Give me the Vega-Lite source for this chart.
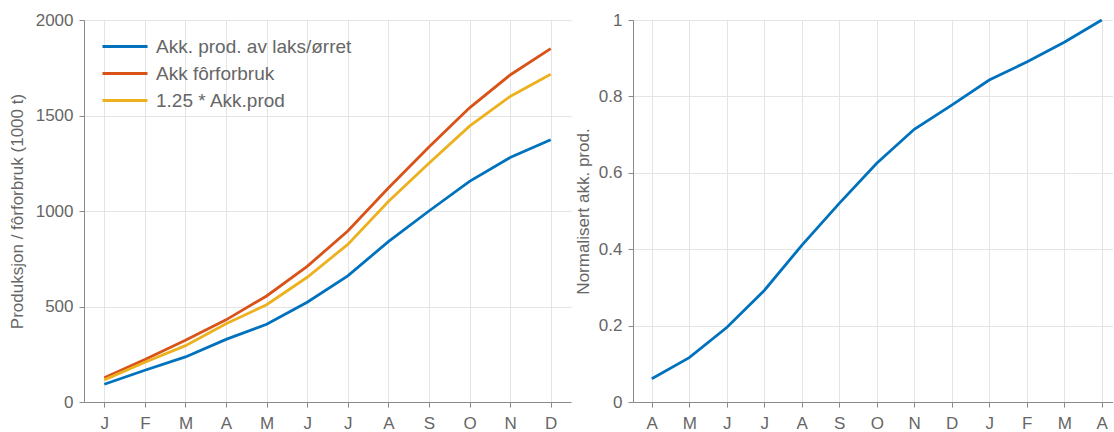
{
  "$schema": "https://vega.github.io/schema/vega-lite/v6.json",
  "padding": {"left": 8, "top": 11, "right": 0, "bottom": 0},
  "spacing": 3,
  "background": "white",
  "config": {
    "view": {"stroke": null},
    "font": "Liberation Sans",
    "axis": {
      "labelFont": "Liberation Sans",
      "labelFontSize": 17,
      "labelColor": "#666666",
      "titleFont": "Liberation Sans",
      "titleFontSize": 17,
      "titleFontWeight": "normal",
      "titleColor": "#666666",
      "domainColor": "#8a8a8a",
      "tickColor": "#8a8a8a",
      "gridColor": "#e4e4e4",
      "tickSize": 5,
      "labelPadding": 6
    },
    "legend": {
      "labelFont": "Liberation Sans",
      "labelFontSize": 19,
      "labelColor": "#666666",
      "labelLimit": 400
    }
  },
  "datasets": {
    "left": [
      {"m": 1, "series": "Akk. prod. av laks/ørret", "v": 93},
      {"m": 2, "series": "Akk. prod. av laks/ørret", "v": 166},
      {"m": 3, "series": "Akk. prod. av laks/ørret", "v": 236},
      {"m": 4, "series": "Akk. prod. av laks/ørret", "v": 328},
      {"m": 5, "series": "Akk. prod. av laks/ørret", "v": 407},
      {"m": 6, "series": "Akk. prod. av laks/ørret", "v": 522},
      {"m": 7, "series": "Akk. prod. av laks/ørret", "v": 660},
      {"m": 8, "series": "Akk. prod. av laks/ørret", "v": 840},
      {"m": 9, "series": "Akk. prod. av laks/ørret", "v": 1000},
      {"m": 10, "series": "Akk. prod. av laks/ørret", "v": 1155},
      {"m": 11, "series": "Akk. prod. av laks/ørret", "v": 1280},
      {"m": 12, "series": "Akk. prod. av laks/ørret", "v": 1373},
      {"m": 1, "series": "Akk fôrforbruk", "v": 127},
      {"m": 2, "series": "Akk fôrforbruk", "v": 222},
      {"m": 3, "series": "Akk fôrforbruk", "v": 323},
      {"m": 4, "series": "Akk fôrforbruk", "v": 430},
      {"m": 5, "series": "Akk fôrforbruk", "v": 555},
      {"m": 6, "series": "Akk fôrforbruk", "v": 710},
      {"m": 7, "series": "Akk fôrforbruk", "v": 895},
      {"m": 8, "series": "Akk fôrforbruk", "v": 1120},
      {"m": 9, "series": "Akk fôrforbruk", "v": 1335},
      {"m": 10, "series": "Akk fôrforbruk", "v": 1540},
      {"m": 11, "series": "Akk fôrforbruk", "v": 1712},
      {"m": 12, "series": "Akk fôrforbruk", "v": 1850},
      {"m": 1, "series": "1.25 * Akk.prod", "v": 116},
      {"m": 2, "series": "1.25 * Akk.prod", "v": 208},
      {"m": 3, "series": "1.25 * Akk.prod", "v": 295},
      {"m": 4, "series": "1.25 * Akk.prod", "v": 410},
      {"m": 5, "series": "1.25 * Akk.prod", "v": 509},
      {"m": 6, "series": "1.25 * Akk.prod", "v": 653},
      {"m": 7, "series": "1.25 * Akk.prod", "v": 825},
      {"m": 8, "series": "1.25 * Akk.prod", "v": 1050},
      {"m": 9, "series": "1.25 * Akk.prod", "v": 1250},
      {"m": 10, "series": "1.25 * Akk.prod", "v": 1444},
      {"m": 11, "series": "1.25 * Akk.prod", "v": 1600},
      {"m": 12, "series": "1.25 * Akk.prod", "v": 1716}
    ],
    "right": [
      {"i": 1, "v": 0.061},
      {"i": 2, "v": 0.116},
      {"i": 3, "v": 0.195},
      {"i": 4, "v": 0.292},
      {"i": 5, "v": 0.41},
      {"i": 6, "v": 0.52},
      {"i": 7, "v": 0.625},
      {"i": 8, "v": 0.714},
      {"i": 9, "v": 0.777},
      {"i": 10, "v": 0.843},
      {"i": 11, "v": 0.89},
      {"i": 12, "v": 0.942},
      {"i": 13, "v": 1.0}
    ]
  },
  "hconcat": [
    {
      "width": 487,
      "height": 382,
      "data": {"name": "left"},
      "mark": {"type": "line", "strokeWidth": 2.8, "clip": true},
      "encoding": {
        "x": {
          "field": "m",
          "type": "quantitative",
          "scale": {"domain": [0.5, 12.5], "nice": false, "zero": false},
          "axis": {
            "title": null,
            "values": [1, 2, 3, 4, 5, 6, 7, 8, 9, 10, 11, 12],
            "labelExpr": "['J','F','M','A','M','J','J','A','S','O','N','D'][datum.value-1]",
            "labelPadding": 8
          }
        },
        "y": {
          "field": "v",
          "type": "quantitative",
          "scale": {"domain": [0, 2000], "nice": false},
          "axis": {
            "title": "Produksjon / fôrforbruk (1000 t)",
            "values": [0, 500, 1000, 1500, 2000],
            "format": "d",
            "titlePadding": 9
          }
        },
        "color": {
          "field": "series",
          "type": "nominal",
          "scale": {
            "domain": ["Akk. prod. av laks/ørret", "Akk fôrforbruk", "1.25 * Akk.prod"],
            "range": ["#0072BD", "#D95319", "#EDB120"]
          },
          "sort": ["Akk. prod. av laks/ørret", "Akk fôrforbruk", "1.25 * Akk.prod"],
          "legend": {
            "title": null,
            "orient": "none",
            "legendX": 17,
            "legendY": 13,
            "symbolType": "stroke",
            "symbolSize": 2025,
            "symbolStrokeWidth": 2.8,
            "labelOffset": 7,
            "clipHeight": 27,
            "rowPadding": 0
          }
        }
      }
    },
    {
      "width": 480,
      "height": 382,
      "data": {"name": "right"},
      "mark": {"type": "line", "strokeWidth": 2.8, "color": "#0072BD"},
      "encoding": {
        "x": {
          "field": "i",
          "type": "quantitative",
          "scale": {"domain": [0.5, 13.3], "nice": false, "zero": false},
          "axis": {
            "title": null,
            "values": [1, 2, 3, 4, 5, 6, 7, 8, 9, 10, 11, 12, 13],
            "labelExpr": "['A','M','J','J','A','S','O','N','D','J','F','M','A'][datum.value-1]",
            "labelPadding": 8
          }
        },
        "y": {
          "field": "v",
          "type": "quantitative",
          "scale": {"domain": [0, 1], "nice": false},
          "axis": {
            "title": "Normalisert akk. prod.",
            "values": [0, 0.2, 0.4, 0.6, 0.8, 1],
            "format": "~g",
            "titlePadding": 6
          }
        }
      }
    }
  ]
}
